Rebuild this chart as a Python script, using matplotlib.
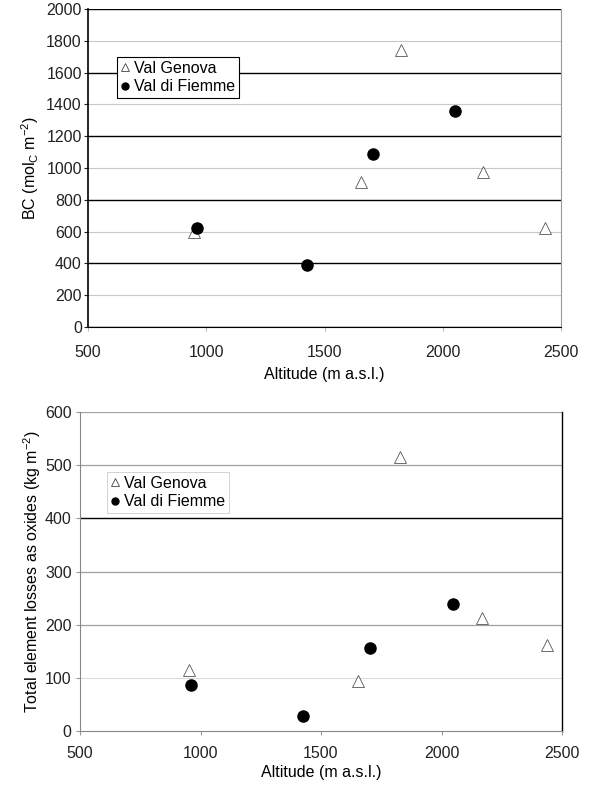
import matplotlib
matplotlib.use("Agg")
import matplotlib.pyplot as plt
from matplotlib.lines import Line2D

plt.rcParams['font.family'] = ['Liberation Sans', 'DejaVu Sans']
plt.rcParams['mathtext.fontset'] = 'custom'
plt.rcParams['mathtext.rm'] = 'Liberation Sans'
plt.rcParams['mathtext.it'] = 'Liberation Sans'

# Top panel: base cations (BC)
genova_alt_bc = [948, 1823, 1654, 2170, 2432]
genova_bc = [600, 1742, 912, 975, 623]
fiemme_alt_bc = [960, 1426, 1705, 2052]
fiemme_bc = [623, 390, 1088, 1359]

# Bottom panel: total element losses as oxides
genova_alt_tel = [952, 1828, 1654, 2168, 2438]
genova_tel = [115, 515, 94, 212, 162]
fiemme_alt_tel = [960, 1425, 1703, 2048]
fiemme_tel = [86, 28, 156, 239]

x_ticks = [500, 1000, 1500, 2000, 2500]
bc_ticks = list(range(0, 2001, 200))
tel_ticks = list(range(0, 601, 100))

W, H = 592, 787
fig = plt.figure(figsize=(W / 100, H / 100), dpi=100)

def ax_rect(l, r, t, b):
    return [l / W, 1 - b / H, (r - l) / W, (b - t) / H]

fs = 11.5
ax1 = fig.add_axes(ax_rect(88, 561, 9, 327))
ax2 = fig.add_axes(ax_rect(80, 562, 412, 731))

# --- top ---
for v in bc_ticks:
    if v % 400 == 0:
        ax1.axhline(v, color='black', lw=1.0, zorder=1)
    else:
        ax1.axhline(v, color='#c8c8c8', lw=0.8, zorder=1)
ax1.plot(genova_alt_bc, genova_bc, linestyle='none', marker='^', ms=8.5,
         mfc='white', mec='#555555', mew=0.6, zorder=3)
ax1.plot(fiemme_alt_bc, fiemme_bc, linestyle='none', marker='o', ms=8,
         mfc='black', mec='black', zorder=4)
ax1.set_xlim(500, 2500)
ax1.set_ylim(0, 2000)
ax1.set_xticks(x_ticks)
ax1.set_yticks(bc_ticks)
ax1.spines['left'].set_color('black')
ax1.spines['left'].set_linewidth(1.2)
ax1.spines['bottom'].set_color('black')
ax1.spines['top'].set_visible(False)
ax1.spines['right'].set_color('#999999')
ax1.spines['right'].set_linewidth(0.8)
ax1.tick_params(axis='both', direction='out', length=3, width=0.8, labelsize=fs, colors='#222222')
ax1.tick_params(axis='y', pad=1.5)
ax1.tick_params(axis='x', colors='#bbbbbb', labelcolor='#222222', pad=10)
ax1.set_xlabel('Altitude (m a.s.l.)', fontsize=fs, labelpad=5)
ax1.set_ylabel(r'BC (mol$_{\mathrm{C}}$ m$^{-2}$)', fontsize=fs, labelpad=4)
h1 = [Line2D([], [], ls='none', marker='^', ms=6, mfc='white', mec='#444444', mew=0.6),
      Line2D([], [], ls='none', marker='o', ms=5, mfc='black', mec='black')]
leg1 = ax1.legend(h1, ['Val Genova', 'Val di Fiemme'], loc='upper left',
                  bbox_to_anchor=((117 - 88) / 473, (327 - 57) / 318), fontsize=fs,
                  frameon=True, fancybox=False, edgecolor='black', framealpha=1,
                  handlelength=0.5, handletextpad=0.3, borderpad=0.25, labelspacing=0.2,
                  borderaxespad=0)
leg1.get_frame().set_linewidth(0.8)

# --- bottom ---
for v in tel_ticks:
    if v == 400:
        ax2.axhline(v, color='black', lw=1.0, zorder=1)
    elif v == 0:
        continue
    elif v == 100:
        ax2.axhline(v, color='#dcdcdc', lw=0.8, zorder=1)
    else:
        ax2.axhline(v, color='#a0a0a0', lw=0.9, zorder=1)
ax2.plot(genova_alt_tel, genova_tel, linestyle='none', marker='^', ms=8.5,
         mfc='white', mec='#555555', mew=0.6, zorder=3)
ax2.plot(fiemme_alt_tel, fiemme_tel, linestyle='none', marker='o', ms=8,
         mfc='black', mec='black', zorder=4)
ax2.set_xlim(500, 2500)
ax2.set_ylim(0, 600)
ax2.set_xticks(x_ticks)
ax2.set_yticks(tel_ticks)
ax2.spines['left'].set_color('#888888')
ax2.spines['bottom'].set_color('#888888')
ax2.spines['top'].set_visible(False)
ax2.spines['right'].set_color('black')
ax2.spines['right'].set_linewidth(1.0)
ax2.tick_params(axis='both', direction='out', length=3, width=0.8, labelsize=fs,
                colors='#999999', labelcolor='#222222')
ax2.tick_params(axis='y', pad=3)
ax2.tick_params(axis='x', pad=8)
ax2.set_xlabel('Altitude (m a.s.l.)', fontsize=fs, labelpad=3)
ax2.set_ylabel(r'Total element losses as oxides (kg m$^{-2}$)', fontsize=fs, labelpad=1.5)
h2 = [Line2D([], [], ls='none', marker='^', ms=6, mfc='white', mec='#444444', mew=0.6),
      Line2D([], [], ls='none', marker='o', ms=5, mfc='black', mec='black')]
leg2 = ax2.legend(h2, ['Val Genova', 'Val di Fiemme'], loc='upper left',
                  bbox_to_anchor=((107 - 80) / 482, (731 - 472) / 319), fontsize=fs,
                  frameon=True, fancybox=False, edgecolor='#cccccc', framealpha=1,
                  handlelength=0.5, handletextpad=0.3, borderpad=0.25, labelspacing=0.2,
                  borderaxespad=0)
leg2.get_frame().set_linewidth(0.6)

fig.savefig('out.png', dpi=100)
